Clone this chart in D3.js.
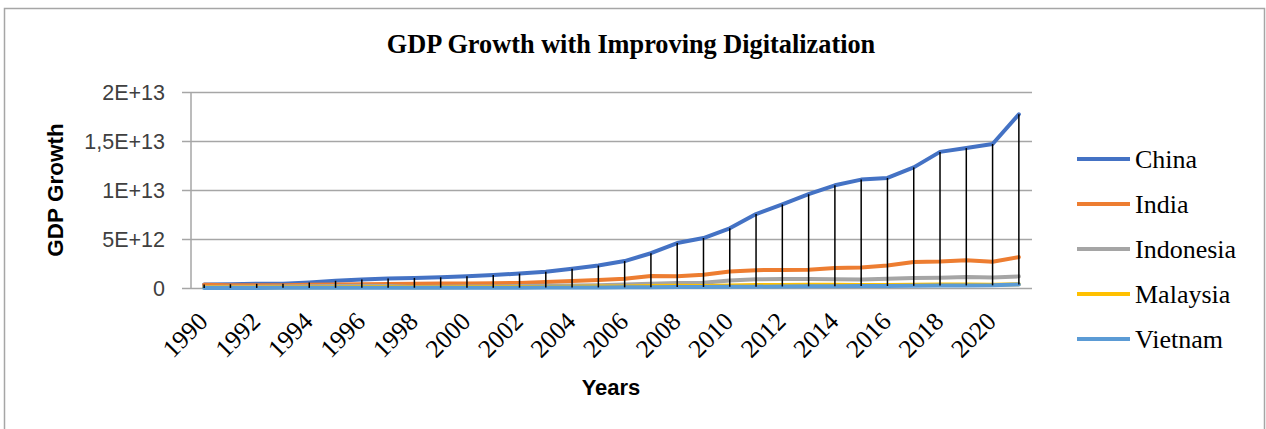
<!DOCTYPE html>
<html>
<head>
<meta charset="utf-8">
<script src="https://cdn.jsdelivr.net/npm/d3@7"></script>
<style>
  html, body { margin: 0; padding: 0; background: #fff; }
  svg { display: block; }
</style>
</head>
<body>
<svg id="chart" width="1266" height="429"></svg>
<script>
// ---- data (GDP, current US$) ----
const years = d3.range(1990, 2022).map(String);
const tickLabels = ["1990","1992","1994","1996","1998","2000","2002","2004","2006","2008","2010","2012","2014","2016","2018","2020"];
const seriesNames = ["China", "India", "Indonesia", "Malaysia", "Vietnam"];
const seriesColors = ["#4472C4", "#ED7D31", "#A5A5A5", "#FFC000", "#5B9BD5"];
const china = [3.61e11,3.83e11,4.27e11,4.45e11,5.64e11,7.34e11,8.64e11,9.62e11,1.029e12,1.094e12,1.211e12,1.339e12,1.471e12,1.660e12,1.955e12,2.29e12,2.75e12,3.55e12,4.59e12,5.10e12,6.09e12,7.55e12,8.53e12,9.57e12,1.048e13,1.106e13,1.123e13,1.231e13,1.389e13,1.428e13,1.469e13,1.773e13];
const india = [3.21e11,2.70e11,2.88e11,2.79e11,3.27e11,3.60e11,3.93e11,4.16e11,4.21e11,4.58e11,4.68e11,4.85e11,5.15e11,6.08e11,7.09e11,8.20e11,9.40e11,1.217e12,1.199e12,1.342e12,1.676e12,1.823e12,1.828e12,1.857e12,2.039e12,2.104e12,2.295e12,2.652e12,2.703e12,2.836e12,2.672e12,3.150e12];
const indonesia = [1.06e11,1.16e11,1.28e11,1.58e11,1.77e11,2.02e11,2.28e11,2.15e11,0.95e11,1.40e11,1.65e11,1.60e11,1.96e11,2.35e11,2.57e11,2.86e11,3.65e11,4.32e11,5.10e11,5.40e11,7.55e11,8.93e11,9.18e11,9.13e11,8.91e11,8.61e11,9.32e11,1.016e12,1.042e12,1.119e12,1.059e12,1.186e12];
const malaysia = [4.4e10,4.9e10,5.9e10,6.7e10,7.4e10,8.9e10,1.00e11,1.00e11,7.2e10,7.9e10,9.4e10,9.2e10,1.01e11,1.10e11,1.25e11,1.44e11,1.63e11,1.94e11,2.31e11,2.02e11,2.55e11,2.98e11,3.14e11,3.23e11,3.38e11,3.01e11,3.01e11,3.19e11,3.59e11,3.65e11,3.37e11,3.73e11];
const vietnam = [6.5e9,9.6e9,9.9e9,1.32e10,1.63e10,2.08e10,2.46e10,2.68e10,2.72e10,2.87e10,3.11e10,3.27e10,3.51e10,3.96e10,4.54e10,5.76e10,6.66e10,7.74e10,9.90e10,1.06e11,1.16e11,1.355e11,1.558e11,1.712e11,1.862e11,1.932e11,2.055e11,2.238e11,2.450e11,2.619e11,2.711e11,3.662e11];
const yTicks = [0, 5e12, 1e13, 1.5e13, 2e13];
const yTickLabels = ["0", "5E+12", "1E+13", "1,5E+13", "2E+13"];

const seriesValues = [china, india, indonesia, malaysia, vietnam];

// ---- layout ----
const svg = d3.select("#chart");
const plotLeft = 191, plotRight = 1032, plotTop = 92, plotBottom = 288;

const x = d3.scaleBand().domain(years).range([plotLeft, plotRight]);
const cx = d => x(d) + x.bandwidth() / 2;
const y = d3.scaleLinear().domain([0, 2e13]).range([plotBottom, plotTop]);

// outer border
svg.append("rect")
  .attr("x", 4.5).attr("y", 8.5).attr("width", 1260).attr("height", 440)
  .attr("fill", "none").attr("stroke", "#A6A6A6").attr("stroke-width", 1.5);

// title
svg.append("text")
  .attr("x", 631).attr("y", 53)
  .attr("text-anchor", "middle")
  .attr("font-family", "'Liberation Serif', 'Times New Roman', serif")
  .attr("font-weight", "bold").attr("font-size", 26.3)
  .attr("fill", "#000")
  .text("GDP Growth with Improving Digitalization");

// gridlines + y axis
const yAxis = d3.axisLeft(y).tickValues(yTicks)
  .tickSize(-(plotRight - plotLeft))
  .tickFormat((d, i) => yTickLabels[i]);
const gy = svg.append("g").attr("transform", `translate(${plotLeft},0)`).call(yAxis);
gy.select(".domain").remove();
gy.selectAll(".tick line").attr("stroke", "#A6A6A6").attr("stroke-width", 1.5).attr("x1", -9);
gy.selectAll(".tick text")
  .attr("x", -26).attr("dy", "0.35em")
  .attr("font-family", "'Liberation Sans', Arial, sans-serif")
  .attr("font-size", 21.5).attr("fill", "#404040");
svg.append("line")
  .attr("x1", plotLeft).attr("x2", plotLeft).attr("y1", plotTop).attr("y2", plotBottom)
  .attr("stroke", "#A6A6A6").attr("stroke-width", 1.5);

// x axis labels
const xAxis = d3.axisBottom(x).tickValues(tickLabels).tickSize(0);
const gx = svg.append("g").attr("transform", `translate(0,${plotBottom})`).call(xAxis);
gx.select(".domain").remove();
gx.selectAll(".tick text")
  .attr("text-anchor", "end")
  .attr("transform", "translate(5,35) rotate(-45)")
  .attr("x", 0).attr("y", 0).attr("dy", 0)
  .attr("font-family", "'Liberation Serif', 'Times New Roman', serif")
  .attr("font-size", 25.5).attr("fill", "#000");

// axis titles
svg.append("text")
  .attr("transform", "translate(63,190) rotate(-90)")
  .attr("text-anchor", "middle")
  .attr("font-family", "'Liberation Sans', Arial, sans-serif")
  .attr("font-weight", "bold").attr("font-size", 22.5).attr("fill", "#000")
  .text("GDP Growth");
svg.append("text")
  .attr("x", 611).attr("y", 395)
  .attr("text-anchor", "middle")
  .attr("font-family", "'Liberation Sans', Arial, sans-serif")
  .attr("font-weight", "bold").attr("font-size", 22).attr("fill", "#000")
  .text("Years");

// series lines
const line = d3.line().x((d, i) => cx(years[i])).y(d => y(d));
seriesValues.forEach((vals, k) => {
  svg.append("path")
    .datum(vals)
    .attr("d", line)
    .attr("fill", "none")
    .attr("stroke", seriesColors[k])
    .attr("stroke-width", 4)
    .attr("stroke-linejoin", "round")
    .attr("stroke-linecap", "round");
});

// high-low lines
svg.append("g").selectAll("line")
  .data(years)
  .join("line")
  .attr("x1", d => cx(d)).attr("x2", d => cx(d))
  .attr("y1", (d, i) => y(d3.max(seriesValues, s => s[i])))
  .attr("y2", (d, i) => y(d3.min(seriesValues, s => s[i])))
  .attr("stroke", "#000").attr("stroke-width", 1.5);

// legend
const lg = svg.append("g");
seriesNames.forEach((name, k) => {
  const ly = 159 + k * 45;
  lg.append("line")
    .attr("x1", 1077).attr("x2", 1130).attr("y1", ly).attr("y2", ly)
    .attr("stroke", seriesColors[k]).attr("stroke-width", 4);
  lg.append("text")
    .attr("x", 1135).attr("y", ly).attr("dy", "0.35em")
    .attr("font-family", "'Liberation Serif', 'Times New Roman', serif")
    .attr("font-size", 26).attr("fill", "#000")
    .text(name);
});
</script>
</body>
</html>
